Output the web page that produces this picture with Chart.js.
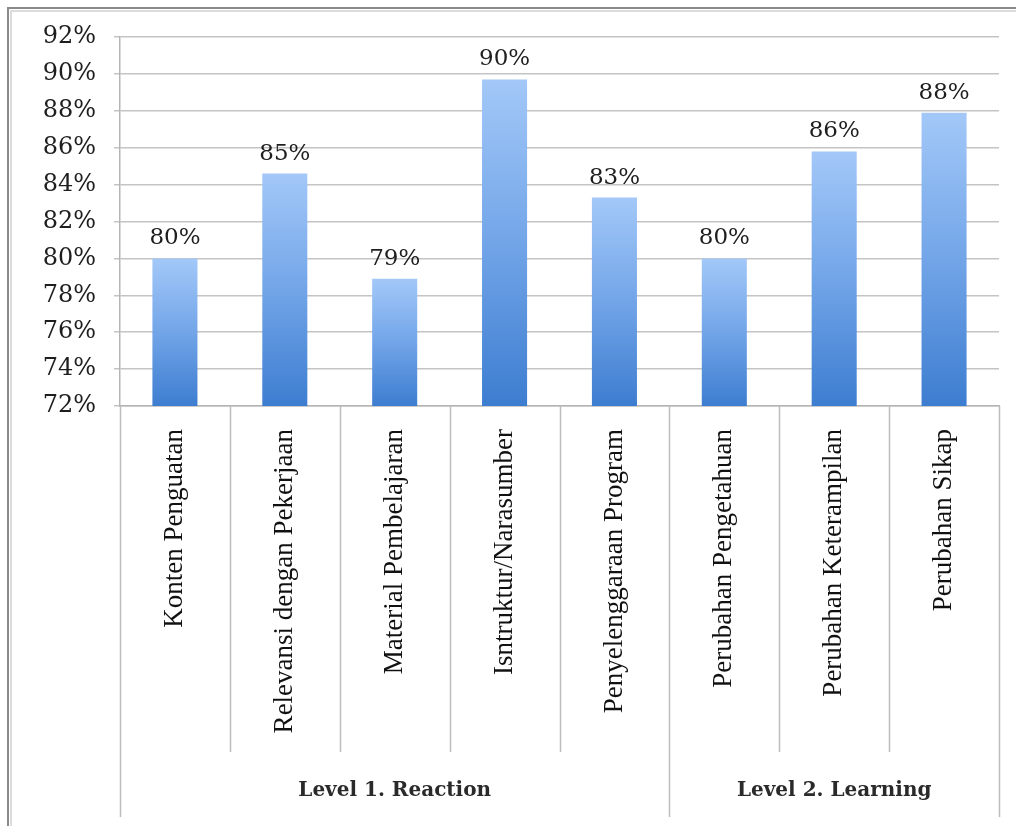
<!DOCTYPE html>
<html>
<head>
<meta charset="utf-8">
<title>Level 1 / Level 2 evaluation</title>
<script src="https://cdn.jsdelivr.net/npm/chart.js@4.4.1/dist/chart.umd.min.js"></script>
<style>
  html, body { margin: 0; padding: 0; background: #fff; }
  #wrap { position: relative; width: 1016px; height: 826px; }
</style>
</head>
<body>
<div id="wrap"><canvas id="chart"></canvas></div>
<script>
// ---- data ----
const categories = [
  'Konten Penguatan',
  'Relevansi dengan Pekerjaan',
  'Material Pembelajaran',
  'Isntruktur/Narasumber',
  'Penyelenggaraan Program',
  'Perubahan Pengetahuan',
  'Perubahan Keterampilan',
  'Perubahan Sikap'
];
const scores = [80, 84.6, 78.9, 89.7, 83.3, 80, 85.8, 87.9];
const groupNames = ['Level 1. Reaction', 'Level 2. Learning'];
const groupSizes = [5, 3];
const yMin = 72, yMax = 92, yStep = 2;

// ---- layout ----
const W = 1016, H = 826;
const PLOT = { left: 120, right: 999, top: 37, bottom: 406 };
const PAD_BOTTOM = 8;
const SERIF = '"DejaVu Serif", serif';
const TIMES = '"Liberation Serif", "Times New Roman", serif';
const TEXT = '#1e1e1e';
const GRID = '#c4c4c4';

function barGradient(ctx) {
  const chart = ctx.chart;
  const y = chart.scales.y;
  if (!chart.chartArea || !y || ctx.raw == null) return '#6a9fe3';
  const top = y.getPixelForValue(ctx.raw);
  const bottom = y.getPixelForValue(yMin);
  const g = chart.ctx.createLinearGradient(0, top, 0, bottom);
  g.addColorStop(0, '#a3c8f8');
  g.addColorStop(0.5, '#72a5e8');
  g.addColorStop(1, '#3d7dd0');
  return g;
}

// white background + the grey chart-area frame on top/left
const framePlugin = {
  id: 'frame',
  beforeDraw(chart) {
    const c = chart.ctx;
    c.save();
    c.fillStyle = '#fff';
    c.fillRect(0, 0, W, H);
    c.strokeStyle = '#dcdcdc';
    c.lineWidth = 2;
    c.beginPath();
    c.moveTo(11, H); c.lineTo(11, 11); c.lineTo(W, 11);
    c.stroke();
    c.strokeStyle = '#8a8a8a';
    c.beginPath();
    c.moveTo(8, H); c.lineTo(8, 8); c.lineTo(W, 8);
    c.stroke();
    c.restore();
  }
};

// value labels above the bars
const valueLabels = {
  id: 'valueLabels',
  afterDatasetsDraw(chart) {
    const c = chart.ctx;
    const meta = chart.getDatasetMeta(0);
    c.save();
    c.font = '23px ' + SERIF;
    c.fillStyle = TEXT;
    c.textAlign = 'center';
    c.textBaseline = 'alphabetic';
    meta.data.forEach((bar, i) => {
      c.fillText(Math.round(scores[i]) + '%', bar.x, bar.y - 14);
    });
    c.restore();
  }
};

// two-level category axis: separators + group names
const groupAxis = {
  id: 'groupAxis',
  afterDraw(chart) {
    const c = chart.ctx;
    const x = chart.scales.x;
    const area = chart.chartArea;
    const n = categories.length;
    const edge = i => {
      if (i === 0) return area.left;
      if (i === n) return area.right;
      return (x.getPixelForValue(i - 1) + x.getPixelForValue(i)) / 2;
    };
    const groupEdges = [0];
    groupSizes.forEach(s => groupEdges.push(groupEdges[groupEdges.length - 1] + s));

    c.save();
    c.strokeStyle = '#bdbdbd';
    c.lineWidth = 1.5;
    for (let i = 0; i <= n; i++) {
      const px = Math.round(edge(i)) + 0.5;
      const long = groupEdges.includes(i);
      c.beginPath();
      c.moveTo(px, area.bottom);
      c.lineTo(px, long ? 817 : 752);
      c.stroke();
    }
    c.font = 'bold 20px ' + SERIF;
    c.fillStyle = '#2a2a2a';
    c.textAlign = 'center';
    c.textBaseline = 'middle';
    groupNames.forEach((name, g) => {
      const cx = (edge(groupEdges[g]) + edge(groupEdges[g + 1])) / 2;
      c.fillText(name, cx, 791);
    });
    c.restore();
  }
};

new Chart(document.getElementById('chart'), {
  type: 'bar',
  data: {
    labels: categories,
    datasets: [{
      data: scores,
      backgroundColor: barGradient,
      borderWidth: 0,
      categoryPercentage: 1,
      barPercentage: 0.41
    }]
  },
  options: {
    responsive: true,
    maintainAspectRatio: false,
    animation: false,
    layout: { padding: { left: 0, top: PLOT.top, right: W - PLOT.right, bottom: PAD_BOTTOM } },
    plugins: { legend: { display: false }, tooltip: { enabled: false } },
    scales: {
      x: {
        type: 'category',
        offset: true,
        grid: { display: false },
        border: { display: true, color: '#b5b5b5', width: 1.5 },
        ticks: {
          autoSkip: false,
          minRotation: 90,
          maxRotation: 90,
          padding: 15,
          color: '#111',
          font: { family: TIMES, size: 27 }
        },
        afterFit(scale) { scale.height = H - PLOT.bottom - PAD_BOTTOM; }
      },
      y: {
        min: yMin,
        max: yMax,
        ticks: {
          stepSize: yStep,
          padding: 18,
          color: TEXT,
          font: { family: SERIF, size: 24 },
          callback: v => v + '%'
        },
        grid: { color: GRID, lineWidth: 1.5, tickLength: 6 },
        border: { display: true, color: '#b5b5b5', width: 1.5 },
        afterFit(scale) { scale.width = PLOT.left; }
      }
    }
  },
  plugins: [framePlugin, valueLabels, groupAxis]
});
</script>
</body>
</html>
